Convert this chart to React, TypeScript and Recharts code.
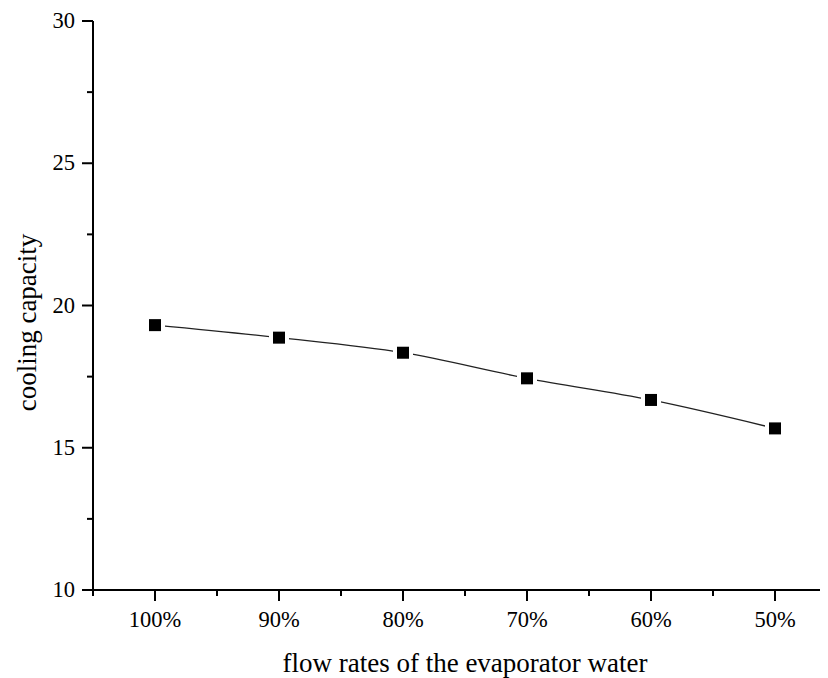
import React from "react";
import { LineChart, Line, XAxis, YAxis, Label } from "recharts";

const categories = ["100%", "90%", "80%", "70%", "60%", "50%"];
const coolingCapacity = [19.31, 18.87, 18.34, 17.44, 16.68, 15.68];
const yTicks = [10, 12.5, 15, 17.5, 20, 22.5, 25, 27.5, 30];
const xTicks = [0.5, 1, 1.5, 2, 2.5, 3, 3.5, 4, 4.5, 5, 5.5, 6, 6.5];

const data = categories.map((name, i) => ({ idx: i + 1, name, value: coolingCapacity[i] }));

const FONT = "'Liberation Serif', 'Times New Roman', serif";

function YTick(props: any) {
  const { x, y, payload } = props;
  const major = payload.value % 5 === 0;
  return (
    <g>
      <line x1={x} x2={x - (major ? 11 : 6)} y1={y} y2={y} stroke="#000" strokeWidth={2} />
      {major && (
        <text x={x - 18} y={y} dy={7} textAnchor="end" fontSize={22.5} fontFamily={FONT} fill="#000">
          {payload.value}
        </text>
      )}
    </g>
  );
}

function XTick(props: any) {
  const { x, y, payload } = props;
  const major = Number.isInteger(payload.value);
  return (
    <g>
      <line x1={x} x2={x} y1={y} y2={y + (major ? 11 : 6)} stroke="#000" strokeWidth={2} />
      {major && (
        <text x={x} y={y + 37} textAnchor="middle" fontSize={22.5} fontFamily={FONT} fill="#000">
          {categories[payload.value - 1]}
        </text>
      )}
    </g>
  );
}

// square marker with a white halo so the line stops short of it
function SquareDot(props: any) {
  const { cx, cy } = props;
  if (cx == null || cy == null) return null;
  return (
    <g>
      <rect x={cx - 10} y={cy - 10} width={20} height={20} fill="#fff" />
      <rect x={cx - 6} y={cy - 6} width={12} height={12} fill="#000" />
    </g>
  );
}

export default function App() {
  return (
    <div style={{ width: 820, height: 670, overflow: "hidden", background: "#fff" }}>
      <LineChart
        width={845}
        height={670}
        data={data}
        margin={{ top: 13, right: 16, bottom: 0, left: 0 }}
      >
        <XAxis
          dataKey="idx"
          type="number"
          domain={[0.5, 6.5]}
          ticks={xTicks}
          interval={0}
          height={88}
          tickSize={0}
          tickMargin={0}
          tickLine={false}
          tick={<XTick />}
          axisLine={{ stroke: "#000", strokeWidth: 2 }}
        >
          <Label
            content={(p: any) => {
              const vb = p.viewBox;
              return (
                <text
                  x={vb.x + vb.width / 2}
                  y={vb.y + 82}
                  textAnchor="middle"
                  fontSize={27}
                  fontFamily={FONT}
                  fill="#000"
                >
                  flow rates of the evaporator water
                </text>
              );
            }}
          />
        </XAxis>
        <YAxis
          type="number"
          domain={[10, 30]}
          ticks={yTicks}
          interval={0}
          width={85}
          tickSize={0}
          tickMargin={0}
          tickLine={false}
          tick={<YTick />}
          axisLine={{ stroke: "#000", strokeWidth: 2 }}
        >
          <Label
            content={(p: any) => {
              const vb = p.viewBox;
              const cy = vb.y + vb.height / 2 + 17;
              return (
                <text
                  x={19}
                  y={cy}
                  transform={`rotate(-90, 19, ${cy})`}
                  textAnchor="middle"
                  dominantBaseline="central"
                  fontSize={27}
                  fontFamily={FONT}
                  fill="#000"
                >
                  cooling capacity
                </text>
              );
            }}
          />
        </YAxis>
        <Line
          type="monotone"
          dataKey="value"
          stroke="#222"
          strokeWidth={1.3}
          dot={<SquareDot />}
          activeDot={false}
          isAnimationActive={false}
        />
      </LineChart>
    </div>
  );
}
